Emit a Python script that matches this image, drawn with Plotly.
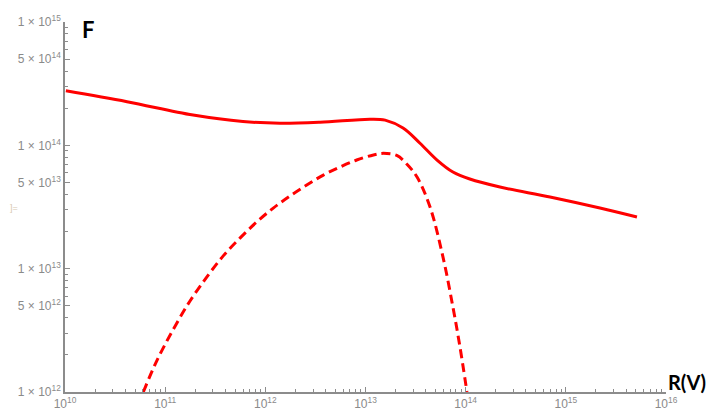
import plotly.graph_objects as go

# valores (escala log-log)
r_total = [1.02e10, 4.16e10, 1.90e11, 5.98e11, 1.40e12, 3.52e12, 1.11e13, 1.57e13,
           2.37e13, 3.50e13, 5.18e13, 7.46e13, 1.10e14, 2.20e14, 6.95e14, 2.19e15, 5.13e15]
f_total = [2.77e14, 2.26e14, 1.76e14, 1.56e14, 1.51e14, 1.54e14, 1.63e14, 1.60e14,
           1.38e14, 1.04e14, 7.60e13, 6.08e13, 5.33e13, 4.59e13, 3.81e13, 3.10e13, 2.62e13]

r_parcial = [6.05e10, 8.22e10, 1.21e11, 1.77e11, 2.60e11, 3.80e11, 5.58e11, 8.20e11,
             1.20e12, 1.76e12, 2.59e12, 3.79e12, 5.56e12, 8.17e12, 1.20e13, 1.51e13,
             2.05e13, 2.58e13, 3.27e13, 4.41e13, 5.94e13, 7.46e13, 8.77e13, 1.03e14]
f_parcial = [1.0e12, 1.78e12, 3.24e12, 5.47e12, 8.55e12, 1.27e13, 1.77e13, 2.39e13,
             3.10e13, 3.88e13, 4.76e13, 5.74e13, 6.67e13, 7.60e13, 8.36e13, 8.61e13,
             8.28e13, 7.06e13, 5.53e13, 3.16e13, 1.24e13, 4.89e12, 2.32e12, 1.0e12]

x_ticks = [1e10, 1e11, 1e12, 1e13, 1e14, 1e15, 1e16]
x_labels = ["10<sup>10</sup>", "10<sup>11</sup>", "10<sup>12</sup>", "10<sup>13</sup>",
            "10<sup>14</sup>", "10<sup>15</sup>", "10<sup>16</sup>"]
y_ticks = [1e12, 5e12, 1e13, 5e13, 1e14, 5e14, 1e15]
y_labels = ["1 × 10<sup>12</sup>", "5 × 10<sup>12</sup>", "1 × 10<sup>13</sup>", "5 × 10<sup>13</sup>",
            "1 × 10<sup>14</sup>", "5 × 10<sup>14</sup>", "1 × 10<sup>15</sup>"]

x_minor = [m * 10**e for e in range(10, 16) for m in range(2, 10)]
y_minor = [m * 10**e for e in range(12, 15) for m in range(2, 10) if m != 5]

fig = go.Figure()
fig.add_trace(go.Scatter(x=r_total, y=f_total, mode="lines",
                         line=dict(color="#ff0000", width=3, shape="spline")))
fig.add_trace(go.Scatter(x=r_parcial, y=f_parcial, mode="lines",
                         line=dict(color="#ff0000", width=3, shape="spline", dash="9px,5px")))

eixo = dict(showgrid=False, zeroline=False, showline=True, linecolor="#8c8c8c", linewidth=1.5,
            ticks="inside", ticklen=5, tickcolor="#8c8c8c", tickwidth=1, automargin=False,
            tickfont=dict(family="Liberation Sans", size=12, color="#8a8a8a"))

fig.update_xaxes(type="log", range=[10, 16], tickmode="array", tickvals=x_ticks, ticktext=x_labels,
                 minor=dict(tickvals=x_minor, ticks="inside", ticklen=3, tickcolor="#8c8c8c"), **eixo)
fig.update_yaxes(type="log", range=[12, 15], tickmode="array", tickvals=y_ticks, ticktext=y_labels,
                 minor=dict(tickvals=y_minor, ticks="inside", ticklen=3, tickcolor="#8c8c8c"), **eixo)

fig.add_annotation(x=0.025, y=1.022, xref="paper", yref="paper", text="<b>F</b>", showarrow=False,
                   xanchor="left", yanchor="top", font=dict(family="Lato", size=22, color="black"))
fig.add_annotation(x=1.0, y=-0.01, xref="paper", yref="paper", text="<b>R(V)</b>", showarrow=False,
                   xanchor="left", yanchor="bottom", font=dict(family="Lato", size=20, color="black"))
fig.add_annotation(x=-0.095, y=0.497, xref="paper", yref="paper", text="]=", showarrow=False,
                   xanchor="left", font=dict(family="Liberation Sans", size=9, color="#d8c8b0"))

# a página tem 8px de margem no body, por isso as margens estão compensadas
fig.update_layout(width=714, height=420, showlegend=False,
                  margin=dict(l=57, r=56, t=14, b=36),
                  plot_bgcolor="white", paper_bgcolor="white")

fig.write_html("out.html")
